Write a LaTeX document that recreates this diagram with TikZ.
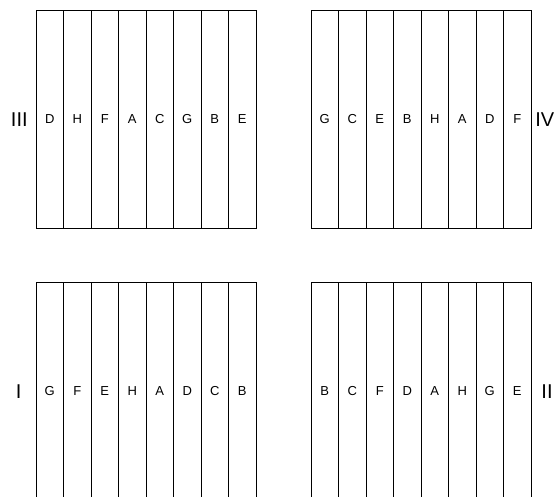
\documentclass[tikz,border=0pt]{standalone}
\usepackage{fontspec}
\setmainfont{Liberation Sans}
\usepackage{tikz}
\usetikzlibrary{positioning}
\tikzstyle{strip} = [rectangle, minimum width=27.5pt, minimum height=218pt, inner sep=0pt,
                     draw=black, line width=0.9pt, font=\fontsize{13}{13}\selectfont]
\tikzstyle{roman} = [inner sep=0pt, font=\fontsize{20}{20}\selectfont]

\begin{document}
\begin{tikzpicture}[x=1pt, y=-1pt]
  \useasboundingbox (0,0) rectangle (560,497);

  % top left: III
  \foreach \lab [count=\i] in {D,H,F,A,C,G,B,E}
    \node (iii\i) [strip] at ({22.25+27.5*\i}, 119.3) {\lab};
  \node (labIII) [roman] at (19.3, 119.3) {III};

  % top right: IV
  \foreach \lab [count=\i] in {G,C,E,B,H,A,D,F}
    \node (iv\i) [strip] at ({297.25+27.5*\i}, 119.3) {\lab};
  \node (labIV) [roman] at (544.7, 119.3) {IV};

  % bottom left: I
  \foreach \lab [count=\i] in {G,F,E,H,A,D,C,B}
    \node (i\i) [strip] at ({22.25+27.5*\i}, 391.3) {\lab};
  \node (labI) [roman] at (18.7, 391.3) {I};

  % bottom right: II
  \foreach \lab [count=\i] in {B,C,F,D,A,H,G,E}
    \node (ii\i) [strip] at ({297.25+27.5*\i}, 391.3) {\lab};
  \node (labII) [roman] at (547, 391.3) {II};
\end{tikzpicture}
\end{document}
